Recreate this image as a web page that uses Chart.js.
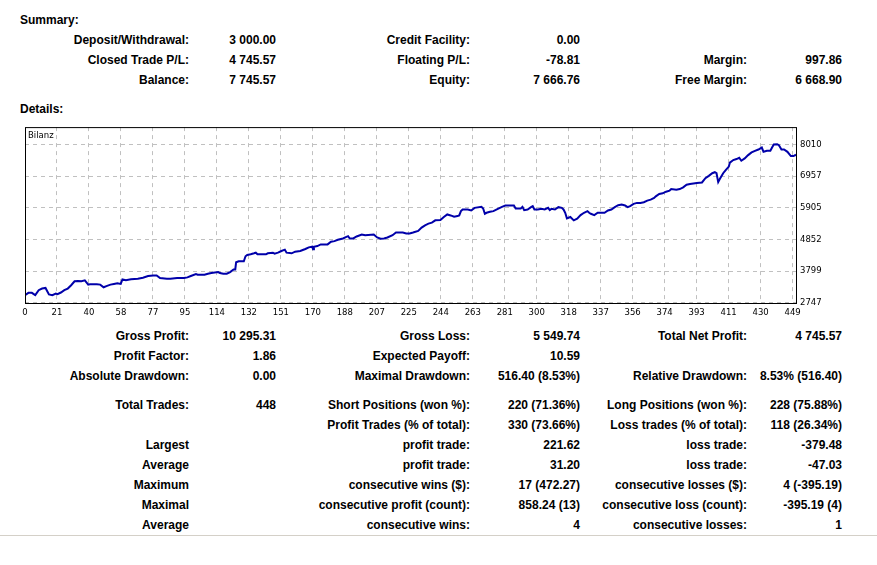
<!DOCTYPE html>
<html>
<head>
<meta charset="utf-8">
<title>Statement</title>
<script src="https://cdn.jsdelivr.net/npm/chart.js@4/dist/chart.umd.min.js"></script>
<style>
  html, body { margin: 0; padding: 0; background: #fff; }
  body { width: 877px; height: 565px; position: relative; overflow: hidden;
         font: bold 12px "Liberation Sans", Arial, sans-serif; color: #000; }
  .t { position: absolute; line-height: 20px; white-space: nowrap; }
  .r { text-align: right; }
  #chartBox { position: absolute; left: 0; top: 118px; width: 877px; height: 205px; }
  .rule { position: absolute; left: 0; top: 535px; width: 877px; height: 1px; background: #d4d0c8; }
</style>
</head>
<body>
<div id="page"></div>
<div id="chartBox"><canvas id="balance" width="877" height="205"></canvas></div>
<div class="rule"></div>

<script>
// balance curve (trade number -> balance)
const tradeIdx = [
  0,2,4,6,8,10,12,14,16,18,19,21,23,25,27,29,31,33,35,37,38,42,44,46,48,50,52,54,56,57,59,62,66,69,72,75,77,79,83,85,89,93,95,97,100,101,105,107,109,113,114,116,118,120,122,123,
  123.5,125,128,129,130,132,134,135,136,141,142,145,146,148,150,152,153,156,158,161,164,166,168,168.5,169,171,173,177,179,181,183,186,188,189,190,192,194,197,199,204,206,208,210,212,215,217,221,223,225,227,
  230,232,234,236,238,240,243,245,247,249,251,253,254,255,256,259,261,263,267,268,269,270,272,274,276,279,281,286,287,290,291,292,294,296,297,298,300,302,304,306,307,308,310,312,314,315,316,317,319,321,323,325,327,329,330,331,333,335,337,
  339,341,343,345,347,349,351,352.5,354,356,358,360,362,364,366,368,369,371,373,375,377,378,381,383,385,387,389,393,396,398,400,402,403.5,404.5,405.5,406.5,408.4,410,411.7,412.3,414.3,416.2,417.8,419,421,423,425,427,429,431,432,434,436,437,438,440,441,442.5,444,446,448,449.5,451
];
const balance = [
  3000,3076,3076,3000,3164,3218,3240,3022,3000,3054,3032,3087,3164,3218,3328,3460,3471,3460,3493,3350,3361,3361,3350,3262,3306,3350,3372,3394,3372,3525,3493,3525,3547,3580,3635,3657,3657,3569,3547,3547,3569,3569,3591,3635,3701,3679,3679,3712,3734,3767,3734,3712,3712,3766,3854,3854,
  4095,4128,4128,4293,4337,4359,4392,4413,4359,4359,4392,4413,4381,4413,4468,4512,4413,4392,4446,4468,4534,4589,4611,4523,4611,4633,4688,4688,4775,4797,4841,4885,4940,4962,4885,4885,4951,5016,4994,5016,4918,4874,4885,4918,4994,5082,5082,5049,5049,5082,
  5137,5247,5323,5378,5411,5488,5499,5598,5685,5652,5608,5630,5652,5795,5850,5850,5817,5904,5937,5883,5707,5740,5773,5795,5850,5937,5981,5981,5883,5883,5937,5828,5850,5926,5959,5850,5850,5872,5850,5904,5828,5872,5850,5926,5904,5850,5740,5554,5598,5488,5543,5663,5740,5795,5740,5707,5663,5740,5740,
  5740,5817,5850,5926,5992,6014,5981,5926,5959,6036,6069,6069,6091,6146,6178,6233,6288,6365,6387,6441,6474,6529,6507,6529,6584,6672,6694,6727,6749,6891,6968,7056,7089,7056,6760,6869,7056,7165,7275,7406,7494,7527,7571,7472,7549,7658,7746,7801,7845,7911,7768,7801,7801,7911,8009,8020,7987,7845,7845,7768,7625,7625,7670
];

const xTickLabels = ['0','21','40','58','77','95','114','132','151','170','188','207','225','244','263','281','300','318','337','356','374','393','411','430','449'];
const yTickLabels = [2747, 3799, 4852, 5905, 6957, 8010];

// text tables: label, value, label, value, label, value
const summaryRows = [
  ['Deposit/Withdrawal:', '3 000.00', 'Credit Facility:', '0.00', '', ''],
  ['Closed Trade P/L:', '4 745.57', 'Floating P/L:', '-78.81', 'Margin:', '997.86'],
  ['Balance:', '7 745.57', 'Equity:', '7 666.76', 'Free Margin:', '6 668.90']
];
const detailRows = [
  ['Gross Profit:', '10 295.31', 'Gross Loss:', '5 549.74', 'Total Net Profit:', '4 745.57'],
  ['Profit Factor:', '1.86', 'Expected Payoff:', '10.59', '', ''],
  ['Absolute Drawdown:', '0.00', 'Maximal Drawdown:', '516.40 (8.53%)', 'Relative Drawdown:', '8.53% (516.40)'],
  ['Total Trades:', '448', 'Short Positions (won %):', '220 (71.36%)', 'Long Positions (won %):', '228 (75.88%)'],
  ['', '', 'Profit Trades (% of total):', '330 (73.66%)', 'Loss trades (% of total):', '118 (26.34%)'],
  ['Largest', '', 'profit trade:', '221.62', 'loss trade:', '-379.48'],
  ['Average', '', 'profit trade:', '31.20', 'loss trade:', '-47.03'],
  ['Maximum', '', 'consecutive wins ($):', '17 (472.27)', 'consecutive losses ($):', '4 (-395.19)'],
  ['Maximal', '', 'consecutive profit (count):', '858.24 (13)', 'consecutive loss (count):', '-395.19 (4)'],
  ['Average', '', 'consecutive wins:', '4', 'consecutive losses:', '1']
];

const COL_RIGHT = [189, 276, 470, 580, 747, 842];
const SUMMARY_Y = [39, 59, 79];
const DETAIL_Y = [335, 355, 375, 404, 424, 444, 464, 484, 504, 524];

function $(id){ return document.getElementById(id); }

function addText(txt, x, y, right){
  const d = document.createElement('div');
  d.className = 't' + (right ? ' r' : '');
  d.textContent = txt;
  d.style.top = (y - 9) + 'px';
  if (right) d.style.right = (877 - x) + 'px';
  else d.style.left = x + 'px';
  $('page').appendChild(d);
}

function renderRows(rows, ys){
  rows.forEach((row, i) => {
    row.forEach((cell, c) => { if (cell) addText(cell, COL_RIGHT[c], ys[i], true); });
  });
}

addText('Summary:', 20, 19, false);
addText('Details:', 20, 108, false);
renderRows(summaryRows, SUMMARY_Y);
renderRows(detailRows, DETAIL_Y);

// black frame + "Bilanz" caption
const framePlugin = {
  id: 'frame',
  afterDraw(chart){
    const { ctx, chartArea: a } = chart;
    ctx.save();
    ctx.strokeStyle = '#000';
    ctx.lineWidth = 1;
    ctx.strokeRect(a.left + 0.5, a.top + 0.5, a.right - a.left, a.bottom - a.top - 1);
    ctx.fillStyle = '#000';
    ctx.font = '8.5px "DejaVu Sans"';
    ctx.textBaseline = 'middle';
    ctx.fillText('Bilanz', a.left + 3, a.top + 8.5);
    ctx.restore();
  }
};

const tickFont = { family: 'DejaVu Sans', size: 8.5 };

new Chart($('balance'), {
  type: 'line',
  data: {
    datasets: [{
      data: tradeIdx.map((x, i) => ({ x, y: balance[i] })),
      borderColor: '#0000aa',
      borderWidth: 2,
      pointRadius: 0,
      tension: 0
    }]
  },
  options: {
    responsive: false,
    animation: false,
    devicePixelRatio: 1,
    layout: { padding: { left: 25, top: 7, right: 0, bottom: 0 } },
    plugins: { legend: { display: false }, tooltip: { enabled: false } },
    scales: {
      x: {
        type: 'linear', min: 0, max: 451,
        afterBuildTicks: s => { s.ticks = xTickLabels.map((l, k) => ({ value: k * 449 / 24 })); },
        afterFit: s => { s.height = 19; },
        ticks: { autoSkip: false, maxRotation: 0, padding: 4, color: '#000', font: tickFont,
                 callback: (v, i) => xTickLabels[i] },
        grid: { color: '#c0c0c0', drawTicks: false },
        border: { display: false, dash: [4, 4] }
      },
      y: {
        position: 'right', min: 2705, max: 8590,
        afterBuildTicks: s => { s.ticks = yTickLabels.map(v => ({ value: v })); },
        afterFit: s => { s.width = 81; },
        ticks: { padding: 4, color: '#000', font: tickFont, callback: v => String(v) },
        grid: { color: '#c0c0c0', drawTicks: false },
        border: { display: false, dash: [4, 4] }
      }
    }
  },
  plugins: [framePlugin]
});
</script>
</body>
</html>
